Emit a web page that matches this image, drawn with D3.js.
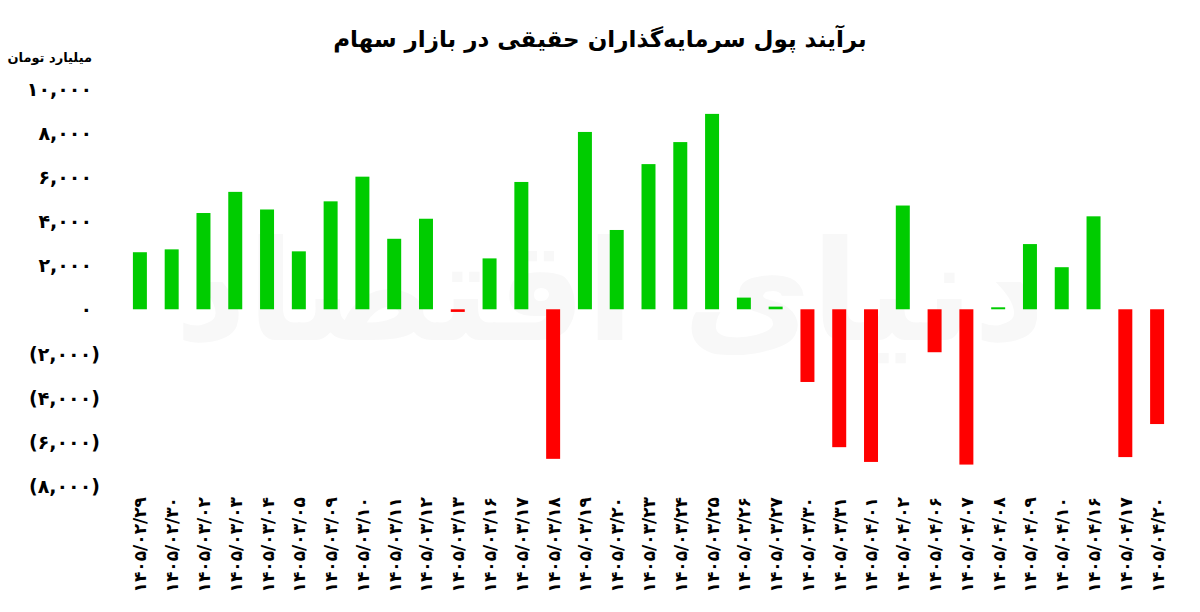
<!DOCTYPE html>
<html>
<head>
<meta charset="utf-8">
<script src="https://cdn.jsdelivr.net/npm/d3@7"></script>
<style>
  html, body { margin: 0; padding: 0; background: #fff; }
  #chart { width: 1200px; height: 612px; }
  text { font-family: "DejaVu Sans", sans-serif; font-weight: bold; fill: #000; }
</style>
</head>
<body>
<div id="chart"></div>
<script>
var titleText = "برآیند پول سرمایه‌گذاران حقیقی در بازار سهام";
var unitText = "میلیارد تومان";

var dates = [
  "1405/02/29", "1405/02/30", "1405/03/02", "1405/03/03", "1405/03/04", "1405/03/05",
  "1405/03/09", "1405/03/10", "1405/03/11", "1405/03/12", "1405/03/13", "1405/03/16",
  "1405/03/17", "1405/03/18", "1405/03/19", "1405/03/20", "1405/03/23", "1405/03/24",
  "1405/03/25", "1405/03/26", "1405/03/27", "1405/03/30", "1405/03/31", "1405/04/01",
  "1405/04/02", "1405/04/06", "1405/04/07", "1405/04/08", "1405/04/09", "1405/04/10",
  "1405/04/16", "1405/04/17", "1405/04/20"
];

// net money flow, billion toman
var values = [
  2590, 2720, 4370, 5330, 4530, 2630,
  4900, 6020, 3200, 4110, -120, 2310,
  5780, -6790, 8050, 3600, 6590, 7590,
  8870, 530, 120, -3300, -6260, -6930,
  4710, -1950, -7050, 90, 2960, 1910,
  4220, -6710, -5210
];

var yTicks = [10000, 8000, 6000, 4000, 2000, 0, -2000, -4000, -6000, -8000];

var chartDiv = document.getElementById("chart");
var width = 1200, height = 612;

var svg = d3.select(chartDiv).append("svg")
  .attr("width", width)
  .attr("height", height);

var faDigits = "۰۱۲۳۴۵۶۷۸۹";
function toFa(s) {
  return String(s).replace(/[0-9]/g, function (c) { return faDigits[+c]; });
}

var x = d3.scaleBand()
  .domain(dates)
  .range([124, 1173])
  .paddingInner(0.56)
  .paddingOuter(0.28);

var y = d3.scaleLinear()
  .domain([-8000, 10000])
  .range([485.5, 89]);

// faint watermark
svg.append("text")
  .attr("x", 610)
  .attr("y", 340)
  .attr("text-anchor", "middle")
  .style("font-size", "140px")
  .style("fill", "#f8f8f8")
  .text("دنیای اقتصاد");

// title
var title = svg.append("text")
  .attr("x", 600)
  .attr("y", 47)
  .attr("text-anchor", "middle")
  .style("font-size", "28px")
  .text(titleText);
var tl = title.node().getComputedTextLength();
title.style("font-size", (28 * 534 / tl) + "px");

svg.append("text")
  .attr("x", 92)
  .attr("y", 62)
  .attr("text-anchor", "end")
  .style("font-size", "13px")
  .text(unitText);

// y labels, negatives in brackets
var fmt = d3.format(",");
svg.selectAll(".ytick")
  .data(yTicks)
  .enter()
  .append("text")
  .attr("class", "ytick")
  .attr("text-anchor", "end")
  .attr("x", function (d) { return d < 0 ? 100 : 92; })
  .attr("y", function (d) { return y(d); })
  .attr("dy", "0.38em")
  .style("font-size", "19px")
  .text(function (d) {
    return d < 0 ? "(" + toFa(fmt(-d)) + ")" : toFa(fmt(d));
  });

svg.selectAll(".bar")
  .data(values)
  .enter()
  .append("rect")
  .attr("class", "bar")
  .attr("x", function (d, i) { return x(dates[i]); })
  .attr("width", x.bandwidth())
  .attr("y", function (d) { return y(Math.max(0, d)); })
  .attr("height", function (d) { return Math.abs(y(d) - y(0)); })
  .attr("fill", function (d) { return d < 0 ? "#ff0000" : "#00cc00"; });

svg.selectAll(".xlabel")
  .data(dates)
  .enter()
  .append("text")
  .attr("class", "xlabel")
  .attr("text-anchor", "end")
  .attr("transform", function (d) {
    return "translate(" + (x(d) + x.bandwidth() / 2) + ",497) rotate(-90)";
  })
  .attr("dy", "0.38em")
  .style("font-size", "17px")
  .text(function (d) { return toFa(d); });
</script>
</body>
</html>
